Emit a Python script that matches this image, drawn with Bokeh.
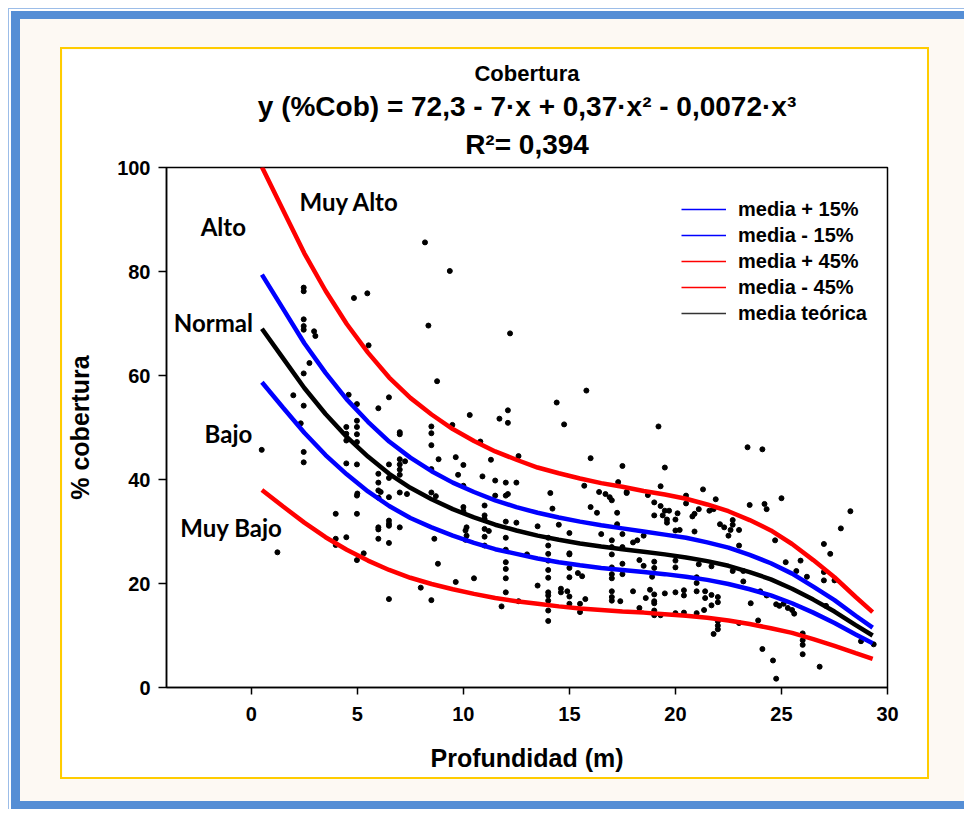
from bokeh.plotting import figure
from bokeh.models import Range1d, FixedTicker, Label, Legend, LegendItem, Title
from bokeh.layouts import column
from bokeh.embed import file_html
from bokeh.resources import INLINE

# ---------------- data ----------------
x_ticks = [0, 5, 10, 15, 20, 25, 30]
y_ticks = [0, 20, 40, 60, 80, 100]

curve_x = [0.5, 1.5, 2.5, 3.5, 4.5, 5.5, 6.5, 7.5, 8.5, 9.5, 10.5, 11.5, 12.5, 13.5, 14.5,
           15.5, 16.5, 17.5, 18.5, 19.5, 20.5, 21.5, 22.5, 23.5, 24.5, 25.5, 26.5, 27.5, 28.5, 29.3]
media = [69.0, 63.3, 57.6, 52.6, 48.2, 44.4, 41.1, 38.4, 36.2, 34.3, 32.7, 31.3, 30.2, 29.2, 28.4,
         27.7, 27.1, 26.6, 26.1, 25.6, 25.0, 24.3, 23.4, 22.2, 20.8, 19.0, 16.9, 14.6, 12.0, 10.0]
media_mas15 = [79.4, 72.8, 66.2, 60.5, 55.4, 51.1, 47.3, 44.2, 41.6, 39.4, 37.6, 36.0, 34.7, 33.6, 32.7,
               31.9, 31.2, 30.6, 30.0, 29.4, 28.8, 27.9, 26.9, 25.5, 23.9, 21.9, 19.4, 16.8, 13.8, 11.5]
media_menos15 = [58.7, 53.8, 49.0, 44.7, 41.0, 37.7, 34.9, 32.6, 30.8, 29.2, 27.8, 26.6, 25.7, 24.8, 24.1,
                 23.5, 23.0, 22.6, 22.2, 21.8, 21.3, 20.7, 19.9, 18.9, 17.7, 16.2, 14.4, 12.4, 10.2, 8.5]
media_mas45 = [100.1, 91.8, 83.5, 76.3, 69.9, 64.4, 59.6, 55.7, 52.5, 49.7, 47.4, 45.4, 43.8, 42.3, 41.2,
               40.2, 39.3, 38.6, 37.8, 37.1, 36.3, 35.2, 33.9, 32.2, 30.2, 27.6, 24.5, 21.2, 17.4, 14.5]
media_menos45 = [38.0, 34.8, 31.7, 28.9, 26.5, 24.4, 22.6, 21.1, 19.9, 18.9, 18.0, 17.2, 16.6, 16.1, 15.6,
                 15.2, 14.9, 14.6, 14.4, 14.1, 13.8, 13.4, 12.9, 12.2, 11.4, 10.5, 9.3, 8.0, 6.6, 5.5]

prof = [2.47, 2.47, 4.84, 5.47, 2.47, 2.47, 2.47, 2.96, 3.02, 5.53, 2.74, 2.47, 1.98, 2.47, 2.33,
        4.59, 4.98, 4.98, 4.98, 4.98, 4.48, 4.48, 4.48, 4.98, 0.49, 2.47, 2.47, 4.48, 4.98, 4.98,
        5.0, 3.98, 4.98, 3.98, 3.98, 4.48, 4.98, 5.3, 1.23,
        8.19, 9.36, 8.35, 8.76, 5.99, 6.49, 10.3, 9.48, 8.49, 8.49, 8.49, 7.0, 7.0, 10.8, 11.3,
        8.83, 9.64, 7.0, 7.0, 7.0, 7.0, 7.25, 6.49, 5.99, 10.0, 8.49, 9.75, 10.9, 11.5, 6.49,
        5.99, 5.99, 6.1, 7.0, 7.34, 8.49, 8.7, 6.0, 6.49, 10.0, 10.0, 10.0, 11.0, 11.0, 11.0,
        11.5, 10.15, 10.1, 10.15, 10.1, 11.0, 11.2, 11.0, 11.0, 5.99, 5.99, 5.99, 6.49, 6.49,
        6.49, 6.49, 7.0, 8.63, 8.8, 7.99, 8.49, 6.49, 9.64, 10.5,
        12.2, 12.1, 11.7, 12.1, 14.4, 15.8, 14.75, 12.6, 16.0, 17.5, 12.0, 12.5, 12.0, 12.1,
        14.1, 15.7, 16.4, 16.7, 16.9, 17.0, 17.3, 17.7, 14.2, 16.0, 16.3, 17.25, 12.0, 12.5,
        13.5, 14.5, 17.25, 12.0, 12.0, 12.0, 12.0, 12.0, 12.0, 13.0,
        14.0, 14.0, 14.0, 14.0, 14.0, 14.0, 14.0, 14.0, 14.0, 14.0, 14.0,
        15.0, 15.0, 15.0, 15.0, 15.0, 15.0, 15.0, 16.5,
        17.0, 17.0, 17.0, 17.0, 17.0, 17.0, 17.0, 17.0, 17.0,
        17.5, 17.5, 17.5, 17.5,
        13.5, 11.8, 12.6, 14.6, 14.6, 14.9, 15.4, 15.6, 15.5, 15.5, 15.75, 17.4,
        19.2, 23.4, 19.5, 19.3, 21.3, 17.7, 18.7, 20.5, 20.5, 21.9, 19.0, 19.3, 19.5, 19.7,
        20.1, 21.6, 21.8, 19.0, 19.4, 19.6, 19.6, 20.0, 20.8, 20.9, 21.1, 23.5, 22.1, 22.3,
        22.7, 22.7, 22.6, 23.0, 22.5, 20.0, 20.2, 20.9, 18.0, 18.2, 18.5, 23.0, 18.3, 19.0,
        18.5, 19.0, 18.9, 20.0, 20.0, 21.1, 21.7, 22.7, 23.2, 23.2, 18.0, 18.8, 18.6, 19.0,
        19.0, 19.0, 19.5, 20.0, 20.4, 20.4, 21.0, 21.0, 21.0, 21.4, 21.4, 21.7, 22.0, 18.3,
        19.0, 19.0, 19.3, 20.0, 20.4, 21.0, 21.35, 21.7, 22.0, 22.0, 22.0, 22.0, 21.8, 23.0,
        23.55,
        24.1, 25.0, 24.2, 24.3, 28.25, 27.8, 24.7, 27.0, 27.3, 25.2, 25.9, 25.7, 26.2, 27.0,
        27.0, 27.5, 24.0, 24.3, 24.75, 24.9, 25.1, 25.3, 25.5, 25.6, 27.1, 23.9, 26.0, 26.0,
        26.0, 26.0, 24.1, 24.6, 26.8, 24.75, 28.75, 29.35]
cob = [76.9, 76.2, 74.9, 75.8, 70.8, 69.5, 68.8, 68.5, 67.6, 65.8, 62.4, 60.4, 56.2, 54.2, 50.8,
       56.3, 54.5, 51.3, 50.1, 48.7, 50.1, 48.8, 47.5, 47.2, 45.7, 45.3, 43.3, 43.1, 42.9, 36.9,
       37.3, 33.4, 33.4, 28.6, 27.4, 28.9, 24.5, 25.8, 26.0,
       85.6, 80.1, 69.6, 58.9, 53.7, 55.8, 52.4, 50.5, 50.2, 48.9, 46.6, 49.1, 48.7, 47.3, 43.8,
       43.9, 44.3, 43.9, 42.9, 41.9, 40.9, 43.5, 42.9, 41.1, 42.8, 42.0, 40.9, 40.6, 39.8, 40.3,
       39.4, 37.9, 37.6, 37.5, 37.2, 37.5, 36.8, 36.5, 36.6, 38.8, 34.7, 33.9, 35.0, 33.1, 32.4,
       36.9, 30.8, 30.2, 29.2, 28.4, 30.5, 30.1, 29.0, 27.3, 30.8, 30.4, 28.6, 32.1, 31.5,
       31.1, 27.8, 30.8, 28.6, 23.8, 19.2, 16.8, 17.0, 20.3, 21.0,
       68.1, 53.3, 51.7, 50.9, 54.8, 57.1, 50.6, 44.5, 44.1, 42.6, 39.4, 39.4, 36.9, 37.2,
       37.4, 38.8, 37.6, 37.2, 36.6, 36.0, 39.5, 37.6, 34.4, 34.7, 33.6, 33.6, 31.9, 31.7,
       31.0, 31.3, 31.4, 28.8, 26.5, 24.1, 22.8, 21.0, 18.3, 25.6,
       28.8, 27.3, 25.7, 24.4, 22.6, 21.1, 18.3, 17.7, 16.7, 14.8, 12.8,
       29.7, 25.8, 25.6, 23.0, 21.2, 17.5, 16.1, 29.5,
       28.3, 27.0, 25.6, 23.1, 21.8, 21.0, 18.5, 17.4, 16.7,
       29.5, 27.0, 23.8, 21.8,
       19.6, 15.6, 16.6, 19.0, 18.3, 18.5, 22.0, 21.4, 16.1, 14.5, 17.0, 16.6,
       50.2, 46.2, 42.3, 38.7, 38.1, 37.4, 37.0, 36.9, 35.4, 36.2, 35.6, 34.9, 34.0, 34.0,
       33.5, 34.0, 34.3, 33.1, 33.1, 32.3, 31.7, 32.3, 32.9, 33.4, 34.3, 35.1, 31.4, 30.8,
       32.2, 31.3, 30.3, 30.3, 29.2, 30.2, 30.3, 30.0, 27.9, 28.3, 29.2, 27.3, 24.5, 24.2,
       23.4, 23.0, 21.3, 24.4, 23.1, 23.7, 23.3, 22.4, 22.4, 20.4, 18.5, 18.8, 17.2, 17.9,
       16.6, 16.2, 18.1, 18.3, 18.7, 17.7, 20.1, 18.5, 21.2, 18.5, 17.2, 17.8, 17.4, 15.3,
       14.8, 13.9, 13.9, 14.3, 14.4, 14.3, 14.9, 15.8, 16.4, 12.75, 11.9, 11.2, 10.3, 12.4,
       16.2,
       45.8, 36.4, 35.3, 34.3, 33.9, 30.6, 28.3, 27.6, 25.7, 24.1, 24.4, 22.4, 21.3, 22.2,
       20.6, 20.6, 18.5, 17.7, 16.0, 15.7, 16.1, 15.3, 14.9, 14.2, 15.7, 12.9, 10.4, 9.1,
       8.2, 6.4, 7.4, 5.2, 4.0, 1.7, 8.9, 8.3]

zona_texto = ["Muy Alto", "Alto", "Normal", "Bajo", "Muy Bajo"]
zona_x = [4.62, -1.32, -1.79, -1.08, -0.94]
zona_y = [93.5, 88.7, 70.2, 48.8, 30.8]

titulo = "Cobertura"
ecuacion = "y (%Cob) = 72,3 - 7·x + 0,37·x² - 0,0072·x³"
r2_texto = "R²= 0,394"

legend_labels = ["media + 15%", "media - 15%", "media + 45%", "media - 45%", "media teórica"]

# ---------------- figure ----------------
FONT = "Liberation Sans"

p = figure(width=869, height=732, x_range=Range1d(-4, 30), y_range=Range1d(0, 100),
           output_backend="svg", toolbar_location=None, tools="",
           min_border_left=104, min_border_right=44, min_border_top=118, min_border_bottom=94,
           background_fill_color="white", border_fill_color="white")
p.grid.visible = False
p.outline_line_color = "black"
p.outline_line_width = 1.5

for ax in (p.xaxis[0], p.yaxis[0]):
    ax.axis_line_width = 1.5
    ax.major_tick_line_width = 1.5
    ax.major_tick_in = 0
    ax.minor_tick_line_color = None
    ax.major_label_text_font = FONT
    ax.major_label_text_font_style = "bold"
    ax.major_label_text_font_size = "20px"
    ax.major_label_text_color = "black"
    ax.axis_label_text_font = FONT
    ax.axis_label_text_font_style = "bold"
    ax.axis_label_text_font_size = "25px"
    ax.axis_label_text_color = "black"

p.xaxis.ticker = FixedTicker(ticks=x_ticks)
p.yaxis.ticker = FixedTicker(ticks=y_ticks)
p.xaxis.major_tick_out = 7
p.yaxis.major_tick_out = 8
p.xaxis.major_label_standoff = 12
p.yaxis.major_label_standoff = 8
p.xaxis.axis_label = "Profundidad (m)"
p.yaxis.axis_label = "% cobertura"
p.xaxis.axis_label_standoff = 20
p.yaxis.axis_label_standoff = 20

# titles: the first one added "above" sits nearest the plot
p.title.text = titulo
p.title.align = "center"
p.title.text_font = FONT
p.title.text_font_style = "bold"
p.title.text_font_size = "22px"
p.title.text_color = "black"
p.title.standoff = 0
p.add_layout(Title(text=" ", align="center", text_font=FONT, text_font_size="1px",
                   standoff=3), "above")
p.add_layout(Title(text=r2_texto, align="center", text_font=FONT, text_font_style="bold",
                   text_font_size="28px", text_color="black", standoff=4), "above")
p.add_layout(Title(text=ecuacion, align="center", text_font=FONT, text_font_style="bold",
                   text_font_size="28px", text_color="black", standoff=6), "above")

# hidden range used only for the thin legend samples
p.extra_y_ranges = {"leyenda": Range1d(start=-1000, end=-900)}

# scatter
p.scatter(prof, cob, size=5, color="black")

# curves
p.line(curve_x, media_menos45, line_color="#FF0000", line_width=4.5)
p.line(curve_x, media_mas45, line_color="#FF0000", line_width=4.5)
p.line(curve_x, media_menos15, line_color="#0000FF", line_width=4.5)
p.line(curve_x, media_mas15, line_color="#0000FF", line_width=4.5)
p.line(curve_x, media, line_color="black", line_width=4.5)

# legend with thin sample lines
legend_series = [media_mas15, media_menos15, media_mas45, media_menos45, media]
legend_colors = ["#0000FF", "#0000FF", "#FF0000", "#FF0000", "#333333"]
items = []
for lab, col, ys in zip(legend_labels, legend_colors, legend_series):
    r = p.line(curve_x, ys, line_color=col, line_width=1.5, y_range_name="leyenda")
    items.append(LegendItem(label=lab, renderers=[r]))
legend = Legend(items=items, location=(515, 362), glyph_width=45, glyph_height=24, label_height=24,
                spacing=2, padding=0, margin=0, label_standoff=12, border_line_alpha=0,
                background_fill_alpha=0, label_text_font=FONT, label_text_font_style="bold",
                label_text_font_size="20px", label_text_color="black")
p.add_layout(legend)

for t, xx, yy in zip(zona_texto, zona_x, zona_y):
    p.add_layout(Label(x=xx, y=yy, text=t, text_align="center", text_baseline="middle",
                       text_font="Lato", text_font_style="bold", text_font_size="24px",
                       text_color="black"))

p.styles = {"border": "2px solid #FFCC00"}

mid = column(p, styles={"background-color": "#FDF9F3",
                        "padding": "28px 35px 22px 40px",
                        "border-left": "9px solid #558ED5",
                        "border-top": "8px solid #558ED5",
                        "border-bottom": "8px solid #558ED5"})
outer = column(mid, styles={"background-color": "white",
                            "padding": "2px 0px 0px 2px",
                            "border-left": "1px solid #9CBDE8",
                            "border-top": "1px solid #9CBDE8"})
page = column(outer, styles={"padding": "8px 0px 0px 8px", "background-color": "white"})

open("out.html", "w").write(file_html(page, INLINE))
